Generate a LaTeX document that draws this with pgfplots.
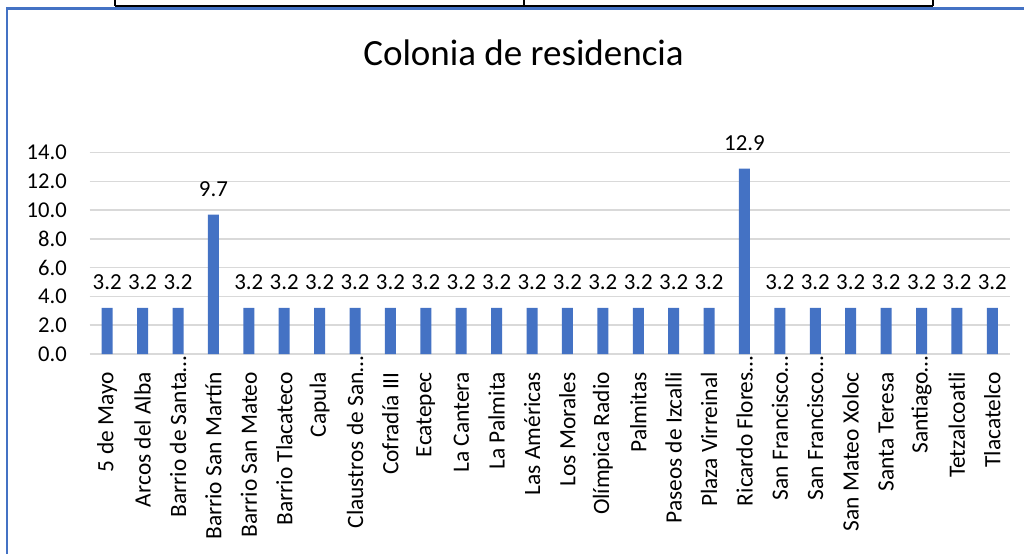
\documentclass[border=0pt]{standalone}
\usepackage{pgfplots}
\pgfplotsset{compat=1.18}
\usepackage{fontspec}
\setmainfont{Carlito}
\definecolor{barblue}{HTML}{4472C4}
\definecolor{gridgray}{HTML}{D9D9D9}
\newcommand{\ellip}{\rlap{…}}
\begin{document}
\begin{tikzpicture}[x=1pt,y=1pt]
\path[use as bounding box] (0,0) rectangle (1024,554);
% frame decorations (page border and table lines from the screenshot)
\draw[black, line width=2.5pt] (115,548) -- (933,548);
\draw[black, line width=2pt] (115,554) -- (115,548);
\draw[black, line width=1.2pt] (524,554) -- (524,548);
\draw[black, line width=2pt] (933,554) -- (933,548);
\draw[barblue, line width=2.2pt] (7,0) -- (7,545.5) -- (1024,545.5);
\node[anchor=base, font=\fontsize{37}{40}\selectfont] at (523.5,488) {Colonia de residencia};
\begin{axis}[
  at={(89.5pt,200pt)}, anchor=south west,
  scale only axis, width=920.5pt, height=201.3pt,
  xmin=-0.5, xmax=25.5, ymin=0, ymax=14,
  ytick={0,2,...,14},
  xtick={0,...,25},
  xticklabels={5 de Mayo, Arcos del Alba, Barrio de Santa\ellip, Barrio San Martín, Barrio San Mateo, Barrio Tlacateco, Capula, Claustros de San\ellip, Cofradía III, Ecatepec, La Cantera, La Palmita, Las Américas, Los Morales, Olímpica Radio, Palmitas, Paseos de Izcalli, Plaza Virreinal, Ricardo Flores\ellip, San Francisco\ellip, San Francisco\ellip, San Mateo Xoloc, Santa Teresa, Santiago\ellip, Tetzalcoatli, Tlacatelco},
  axis lines=left, axis line style={draw=none},
  major tick length=0pt,
  ymajorgrids, grid style={gridgray, line width=1.5pt},
  /pgf/number format/assume math mode=true,
  yticklabel={\pgfmathprintnumber[fixed,fixed zerofill,precision=1]{\tick}},
  yticklabel style={font=\fontsize{22.6}{24}\selectfont, anchor=east, inner sep=0pt, xshift=-22.5pt},
  xticklabel style={font=\fontsize{23.4}{24}\selectfont, rotate=90, anchor=east, inner sep=0pt, yshift=0pt, xshift=-18pt},
  clip=false,
  nodes near coords,
  nodes near coords style={font=\fontsize{22.9}{24}\selectfont, inner sep=0pt, yshift=18pt, /pgf/number format/fixed, /pgf/number format/fixed zerofill, /pgf/number format/precision=1},
]
\addplot[ybar, bar width=11pt, fill=barblue, draw=none] coordinates {
(0,3.2) (1,3.2) (2,3.2) (3,9.7) (4,3.2) (5,3.2) (6,3.2) (7,3.2) (8,3.2) (9,3.2)
(10,3.2) (11,3.2) (12,3.2) (13,3.2) (14,3.2) (15,3.2) (16,3.2) (17,3.2) (18,12.9)
(19,3.2) (20,3.2) (21,3.2) (22,3.2) (23,3.2) (24,3.2) (25,3.2)
};
\end{axis}
\end{tikzpicture}
\end{document}
